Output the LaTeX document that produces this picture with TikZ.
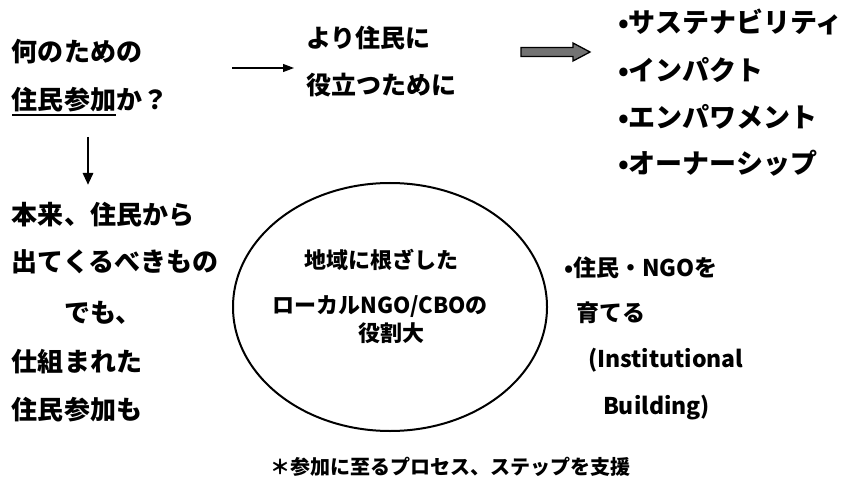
\documentclass[tikz,border=0pt]{standalone}
\usepackage{fontspec}
\newfontfamily\jp{Noto Sans CJK JP}
\usetikzlibrary{arrows.meta,shapes.geometric}
\tikzset{
  txt/.style={anchor=west, inner sep=0pt, outer sep=0pt, font=\jp\bfseries\fontsize{26}{26}\selectfont},
  bul/.style={anchor=west, inner sep=0pt, outer sep=0pt, font=\jp\bfseries\fontsize{27}{27}\selectfont},
  ctxt/.style={anchor=center, inner sep=0pt, outer sep=0pt, font=\jp\bfseries\fontsize{22}{22}\selectfont},
  rtxt/.style={anchor=west, inner sep=0pt, outer sep=0pt, font=\jp\bfseries\fontsize{23}{23}\selectfont},
  thinarrow/.style={draw=black, line width=1.1pt, -{Triangle[length=11pt,width=8pt]}},
  thickarrow/.style={draw=black, line width=2.8pt, -{Triangle[length=12pt,width=10pt]}},
  blockarrow/.style={draw=black, line width=1.3pt, fill=black!55},
  ring/.style={draw=black, line width=2pt}
}
\begin{document}
\begin{tikzpicture}[x=1pt,y=-1pt]
\useasboundingbox[fill=white] (0,0) rectangle (848,497);

% left column
\node[txt] (q1) at (12,52) {何のための};
\node[txt] (q2) at (12,100) {住民参加か？};
\coordinate (ulA) at (12,115);
\coordinate (ulB) at (116,115);
\draw[line width=1.4pt] (ulA) -- (ulB);
\coordinate (dA) at (88,137);
\coordinate (dB) at (88,185);
\draw[thickarrow] (dA) -- (dB);
\node[txt] (l1) at (12,215) {本来、住民から};
\node[txt] (l2) at (12,262) {出てくるべきもの};
\node[txt] (l3) at (64,313) {でも、};
\node[txt] (l4) at (12,362) {仕組まれた};
\node[txt] (l5) at (12,410) {住民参加も};

% top middle
\coordinate (tA) at (232,68);
\coordinate (tB) at (294,68);
\draw[thinarrow] (tA) -- (tB);
\node[txt, font=\jp\bfseries\fontsize{25}{25}\selectfont] (m1) at (306,38) {より住民に};
\node[txt, font=\jp\bfseries\fontsize{25}{25}\selectfont] (m2) at (306,85) {役立つために};

% block arrow
\coordinate (ba) at (521,52);
\draw[blockarrow] (ba) ++(0,-4.5) -- ++(52,0) -- ++(0,-4.5) -- ++(17,9) -- ++(-17,9) -- ++(0,-4.5) -- ++(-52,0) -- cycle;

% bullets right
\node[bul] (b1) at (618,22) {•サステナビリティ};
\node[bul] (b2) at (618,70) {•インパクト};
\node[bul] (b3) at (618,117) {•エンパワメント};
\node[bul] (b4) at (618,163) {•オーナーシップ};

% ellipse
\node[ring, ellipse, minimum width=314pt, minimum height=248pt, inner sep=0pt] (el) at (390,307) {};
\node[ctxt] (e1) at (381,260) {地域に根ざした};
\node[ctxt] (e2) at (380,307) {ローカルNGO/CBOの};
\node[ctxt] (e3) at (391,333) {役割大};

% right of ellipse
\node[rtxt] (r1) at (564,268) {•住民・NGOを};
\node[rtxt] (r2) at (576,313) {育てる};
\node[rtxt] (r3) at (588,360) {(Institutional};
\node[rtxt] (r4) at (603,408) {Building)};

% bottom
\node[ctxt, font=\jp\bfseries\fontsize{20}{20}\selectfont] (bt) at (450,467) {＊参加に至るプロセス、ステップを支援};
\end{tikzpicture}
\end{document}
